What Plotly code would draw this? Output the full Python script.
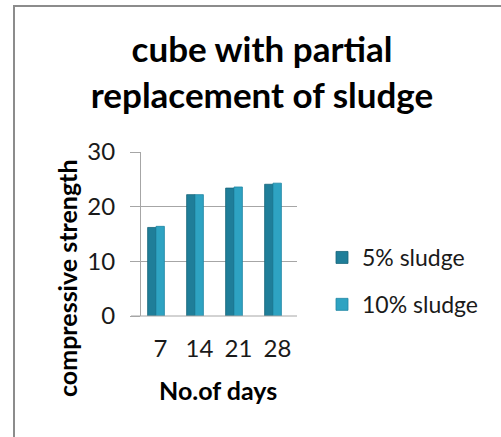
import plotly.graph_objects as go

days = ["7", "14", "21", "28"]
sludge_5 = [16.2, 22.2, 23.4, 24.1]
sludge_10 = [16.4, 22.2, 23.6, 24.3]
series_names = ["5% sludge", "10% sludge"]
y_ticks = [0, 10, 20, 30]

W, H = 501, 437
L, R, T, B = 141, 297, 152, 316  # plot area in pixels

FONT = "Lato"
GRID = "#a6a6a6"

fig = go.Figure()
fig.add_trace(go.Bar(x=days, y=sludge_5, name=series_names[0],
                     marker=dict(color="#1f7e99", line=dict(color="#16647a", width=0.8)),
                     width=0.215, offset=-0.33, legendgroup="a"))
fig.add_trace(go.Bar(x=days, y=sludge_10, name=series_names[1],
                     marker=dict(color="#2ea3c2", line=dict(color="#1f87a3", width=0.8)),
                     width=0.215, offset=-0.115, legendgroup="b"))

# convert reference-image pixel coords to paper coords
px = lambda x: (x - L) / (R - L)
py = lambda y: (B - y) / (B - T)

fig.update_layout(
    width=W, height=H,
    margin=dict(l=L, r=W - R, t=T, b=H - B),
    paper_bgcolor="white", plot_bgcolor="white",
    font=dict(family=FONT, color="#1a1a1a"),
    barmode="overlay",
    showlegend=True,
    legend=dict(x=322 / W, xref="container", y=1 - 236 / H, yref="container",
                xanchor="left", yanchor="top",
                font=dict(family=FONT, size=23, color="#1a1a1a"),
                tracegroupgap=14, traceorder="grouped", itemwidth=30),
    xaxis=dict(type="category", range=[-0.5, 3.5], showgrid=False, ticks="",
               showline=False, tickfont=dict(size=24), ticklabelstandoff=16,
               zeroline=False),
    yaxis=dict(range=[0, 30], tickvals=y_ticks, showgrid=True, gridcolor=GRID,
               gridwidth=1, showline=True, linecolor=GRID, linewidth=1,
               ticks="outside", ticklen=10, tickcolor=GRID,
               tickfont=dict(size=24), ticklabelstandoff=10, zeroline=False),
    title=dict(text="<b>cube with partial<br>replacement of sludge</b>",
               x=262 / W, xanchor="center", y=1 - 62 / H, yanchor="middle",
               xref="container", yref="container",
               font=dict(family=FONT, size=35, color="#000000")),
)

# Baseline extending under tick area
fig.add_shape(type="line", xref="paper", yref="paper",
              x0=px(131), x1=1, y0=0, y1=0, line=dict(color=GRID, width=1))

# Axis titles
fig.add_annotation(text="<b>compressive strength</b>", xref="paper", yref="paper",
                   x=px(67), y=py(278), textangle=-90, showarrow=False,
                   xanchor="center", yanchor="middle",
                   font=dict(family=FONT, size=25, color="#000000"))
fig.add_annotation(text="<b>No.of days</b>", xref="paper", yref="paper",
                   x=px(218), y=py(390), showarrow=False,
                   xanchor="center", yanchor="middle",
                   font=dict(family=FONT, size=25, color="#000000"))

# Chart frame
fig.add_shape(type="rect", xref="paper", yref="paper",
              x0=px(14), x1=px(530), y0=py(6), y1=py(470),
              line=dict(color="#8c8c8c", width=2), fillcolor="rgba(0,0,0,0)")

fig.write_html("out.html", config={"displayModeBar": False},
               post_script="document.body.style.margin='0px';")
